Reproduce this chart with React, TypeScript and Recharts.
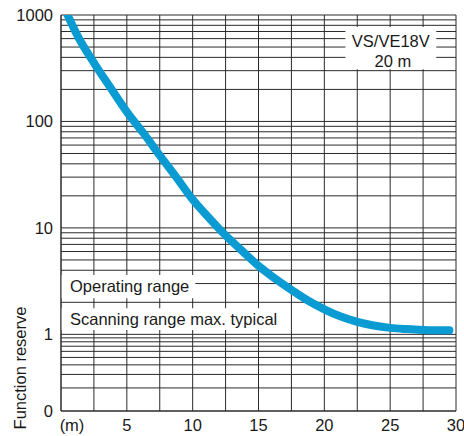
import React from 'react';
import { LineChart, Line, XAxis, YAxis, CartesianGrid, ReferenceArea } from 'recharts';

// Curve: distance (m) vs function reserve
const distances = [0.5, 1.25, 2.5, 3.75, 5, 6.25, 7.5, 8.75, 10, 11.25, 12.5, 13.75, 15, 16.25, 17.5, 18.75, 20, 21.25, 22.5, 23.75, 25, 26.25, 27.5, 28.75, 29.5];
const reserves = [1000, 640, 355, 208, 123, 78, 48, 30, 18.5, 12.4, 8.5, 6.1, 4.4, 3.35, 2.62, 2.08, 1.72, 1.47, 1.31, 1.21, 1.15, 1.12, 1.1, 1.09, 1.09];

const xTicks = [0, 5, 10, 15, 20, 25, 30];
const xGridValues = [0, 2.5, 5, 7.5, 10, 12.5, 15, 17.5, 20, 22.5, 25, 27.5, 30];
const yTickReserves = [0.1, 1, 10, 100, 1000];
const yTickLabels = ['0', '1', '10', '100', '1000'];
const yGridReserves = [
  0.1, 0.2, 0.3, 0.4, 0.5, 0.6, 0.7, 0.8, 0.9,
  1, 2, 3, 4, 5, 6, 7, 8, 9,
  10, 20, 30, 40, 50, 60, 70, 80, 90,
  100, 200, 300, 400, 500, 600, 700, 800, 900, 1000,
];

// below 1 the decade is drawn compressed
const LOW_DECADE = 0.72;
const toT = (v: number) => (v >= 1 ? Math.log10(v) : LOW_DECADE * Math.log10(v));

const data = distances.map((d, i) => ({ d, r: reserves[i] }));

const FONT = '"Liberation Sans", Arial, sans-serif';
const FS = 16.5;
const TXT = '#1a1a1a';
const GRID = '#2a2a2a';
const BLUE = '#0a9bd2';

const XTick = (props: any) => {
  const { x, y, payload } = props;
  const v = payload.value;
  return (
    <text x={v === 0 ? x + 11 : x} y={y} dy="0.71em" textAnchor="middle" fontSize={FS} fill={TXT} fontFamily={FONT}>
      {v === 0 ? '(m)' : String(v)}
    </text>
  );
};

const YTick = (props: any) => {
  const { x, y, payload } = props;
  const idx = yTickReserves.findIndex((r) => Math.abs(toT(r) - payload.value) < 1e-6);
  return (
    <text x={x} y={y} dy="0.355em" textAnchor="end" fontSize={FS} fill={TXT} fontFamily={FONT}>
      {idx >= 0 ? yTickLabels[idx] : ''}
    </text>
  );
};

const YLabel = (props: any) => {
  const vb = props.viewBox || {};
  const cx = 20;
  const cy = (vb.y || 15) + (vb.height || 396) - 43;
  return (
    <text x={cx} y={cy} transform={`rotate(-90, ${cx}, ${cy})`} textAnchor="middle" dominantBaseline="central" fontSize={FS} fill={TXT} fontFamily={FONT}>
      Function reserve
    </text>
  );
};

const VSLabel = (props: any) => {
  const vb = props.viewBox || { x: 0, y: 0, width: 0, height: 0 };
  const cx = vb.x + vb.width / 2;
  return (
    <g>
      <text x={cx} y={vb.y + 14} textAnchor="middle" dominantBaseline="central" fontSize={FS} fill={TXT} fontFamily={FONT}>VS/VE18V</text>
      <text x={cx + 2} y={vb.y + 34} textAnchor="middle" dominantBaseline="central" fontSize={FS} fill={TXT} fontFamily={FONT}>20 m</text>
    </g>
  );
};

export default function App() {
  return (
    <div style={{ position: 'absolute', left: 0, top: 0, width: 464, height: 436, background: '#fff', fontFamily: FONT }}>
      <LineChart width={464} height={436} data={data} margin={{ top: 15, right: 8, bottom: 0, left: 11 }}>
        <CartesianGrid
          stroke={GRID}
          strokeWidth={1}
          horizontalValues={yGridReserves.map(toT)}
          verticalValues={xGridValues}
        />
        <XAxis
          dataKey="d"
          type="number"
          domain={[0, 30]}
          ticks={xTicks}
          tickLine={false}
          axisLine={{ stroke: GRID }}
          height={25}
          tick={<XTick />}
          interval={0}
        />
        <YAxis
          type="number"
          domain={[toT(0.1), 3]}
          ticks={yTickReserves.map(toT)}
          tickLine={false}
          axisLine={{ stroke: GRID }}
          width={50}
          tick={<YTick />}
          interval={0}
          allowDataOverflow
          label={<YLabel />}
        />
        <ReferenceArea
          x1={0}
          x2={10.2}
          y1={0.34}
          y2={0.557}
          fill="#fff"
          fillOpacity={1}
          stroke="none"
          label={{ value: 'Operating range', position: 'insideLeft', offset: 9, fontSize: FS, fill: TXT, fontFamily: FONT }}
        />
        <ReferenceArea
          x1={0}
          x2={16.9}
          y1={0.04}
          y2={0.245}
          fill="#fff"
          fillOpacity={1}
          stroke="none"
          label={{ value: 'Scanning range max. typical', position: 'insideLeft', offset: 9, fontSize: FS, fill: TXT, fontFamily: FONT }}
        />
        <ReferenceArea
          x1={21.6}
          x2={28.5}
          y1={2.49}
          y2={2.887}
          fill="#fff"
          fillOpacity={1}
          stroke="none"
          label={<VSLabel />}
        />
        <Line
          type="monotone"
          dataKey={(p: any) => toT(p.r)}
          stroke={BLUE}
          strokeWidth={8}
          strokeLinecap="round"
          dot={false}
          isAnimationActive={false}
        />
      </LineChart>
    </div>
  );
}
